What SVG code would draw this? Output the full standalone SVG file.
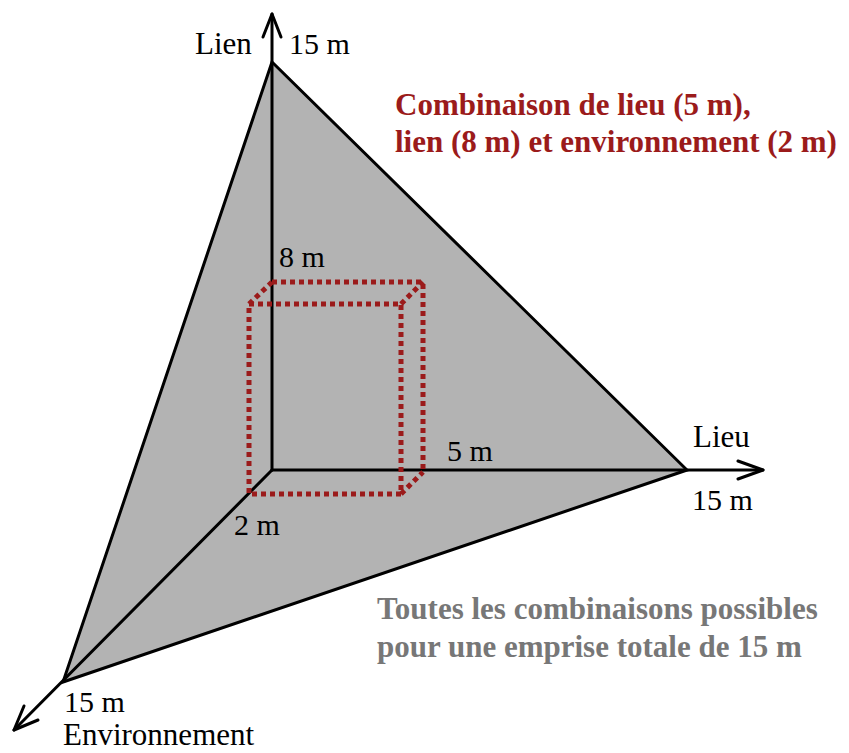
<svg xmlns="http://www.w3.org/2000/svg" width="849" height="753" viewBox="0 0 849 753">
<style>
.lbl{font-family:"Liberation Serif","Times New Roman",serif;font-size:30px;fill:#000}
.wrd{font-family:"Liberation Serif","Times New Roman",serif;font-size:31px;fill:#000}
.red{font-family:"Liberation Serif","Times New Roman",serif;font-size:31px;font-weight:bold;fill:#9b1b1b}
.gray{font-family:"Liberation Serif","Times New Roman",serif;font-size:31px;font-weight:bold;fill:#777}
.ax{stroke:#000;stroke-width:3;fill:none;stroke-linecap:round;stroke-linejoin:round}
.dot{stroke:#9b1b1b;stroke-width:5;fill:none;stroke-dasharray:5 4}
</style>
<rect width="849" height="753" fill="#fff"/>
<g id="surface">
<polygon points="272,62 687,470 63,682" fill="#b3b3b3" stroke="#000" stroke-width="3" stroke-linejoin="miter"/>
</g>
<g id="connectors">
<line class="ax" x1="272" y1="470" x2="272" y2="14"/>
<polyline class="ax" points="263,37 272,14 281,37"/>
<line class="ax" x1="272" y1="470" x2="763" y2="470"/>
<polyline class="ax" points="738,461 763,470 738,479"/>
<line class="ax" x1="272" y1="470" x2="14" y2="730"/>
<polyline class="ax" points="24,706 14,730 38,720"/>
</g>
<g id="cube">
<rect class="dot" x="249" y="304" width="152" height="190"/>
<polyline class="dot" points="272,282 423,282 423,470"/>
<line class="dot" x1="249" y1="304" x2="272" y2="282"/>
<line class="dot" x1="401" y1="304" x2="423" y2="282"/>
<line class="dot" x1="401" y1="494" x2="423" y2="472"/>
</g>
<g id="labels">
<text class="wrd" x="195" y="54">Lien</text>
<text class="lbl" x="289" y="54">15 m</text>
<text class="lbl" x="279" y="267">8 m</text>
<text class="lbl" x="447" y="461">5 m</text>
<text class="lbl" x="234" y="535">2 m</text>
<text class="wrd" x="693" y="447">Lieu</text>
<text class="lbl" x="692" y="510">15 m</text>
<text class="lbl" x="64" y="712">15 m</text>
<text class="wrd" x="63" y="745">Environnement</text>
</g>
<g id="title">
<text class="red" x="395" y="115">Combinaison de lieu (5 m),</text>
<text class="red" x="395" y="152">lien (8 m) et environnement (2 m)</text>
</g>
<g id="note">
<text class="gray" x="377" y="619">Toutes les combinaisons possibles</text>
<text class="gray" x="377" y="657">pour une emprise totale de 15 m</text>
</g>
</svg>
